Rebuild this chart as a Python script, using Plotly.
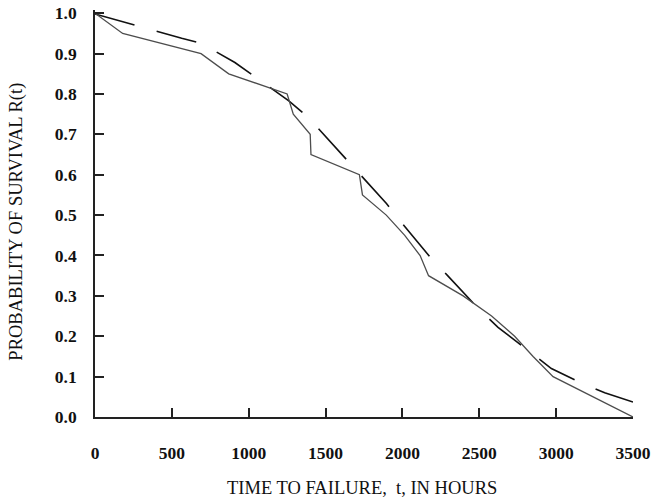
import plotly.graph_objects as go

# Empirical survival curve (solid)
emp_t = [0, 180, 690, 870, 1250, 1290, 1400, 1405, 1720, 1740, 1895, 2015,
         2115, 2170, 2395, 2580, 2730, 2850, 2980, 3240, 3500]
emp_r = [1.00, 0.95, 0.90, 0.85, 0.80, 0.75, 0.70, 0.65, 0.60, 0.55, 0.50, 0.45,
         0.40, 0.35, 0.30, 0.25, 0.20, 0.15, 0.10, 0.05, 0.00]

# Fitted survival curve (dashed)
fit_t = [0, 217, 340, 564, 689, 910, 1040, 1261, 1387, 1586, 1701, 1896,
         2000, 2178, 2297, 2503, 2622, 2855, 2969, 3193, 3316, 3500]
fit_r = [0.998, 0.975, 0.961, 0.938, 0.926, 0.878, 0.843, 0.783, 0.742, 0.659, 0.612, 0.529,
         0.479, 0.397, 0.349, 0.265, 0.222, 0.153, 0.120, 0.079, 0.060, 0.037]

x_ticks = [0, 500, 1000, 1500, 2000, 2500, 3000, 3500]
y_ticks = [0.0, 0.1, 0.2, 0.3, 0.4, 0.5, 0.6, 0.7, 0.8, 0.9, 1.0]
y_labels = [f"{v:.1f}" for v in y_ticks]

x_title = "TIME TO FAILURE,  t, IN HOURS"
y_title = "PROBABILITY OF SURVIVAL R(t)"

fig = go.Figure()
fig.add_trace(go.Scatter(x=fit_t, y=fit_r, mode="lines",
                         line=dict(color="#111111", width=1.6, dash="41px,23px"),
                         showlegend=False, hoverinfo="skip"))
fig.add_trace(go.Scatter(x=emp_t, y=emp_r, mode="lines",
                         line=dict(color="#4d4d4d", width=1.3),
                         showlegend=False, hoverinfo="skip"))

tick_font = dict(family="Liberation Serif", size=17.5, color="#111111", weight="bold")
title_font = dict(family="Liberation Serif", size=18.5, color="#111111")
fig.update_layout(
    width=652, height=498,
    margin=dict(l=95, r=19, t=10, b=81, pad=0),
    paper_bgcolor="white", plot_bgcolor="white",
    xaxis=dict(range=[0, 3500], tickvals=x_ticks, ticktext=[str(v) for v in x_ticks],
               ticks="inside", ticklen=9, tickwidth=1.5, tickcolor="#222222",
               showline=True, linecolor="#222222", linewidth=1.6,
               showgrid=False, zeroline=False, tickfont=tick_font,
               ticklabelstandoff=19, automargin=False, ticklabeloverflow="allow"),
    yaxis=dict(range=[0, 1.008], tickvals=y_ticks, ticktext=y_labels,
               ticks="inside", ticklen=9, tickwidth=1.5, tickcolor="#222222",
               showline=True, linecolor="#222222", linewidth=1.6,
               showgrid=False, zeroline=False, tickfont=tick_font,
               ticklabelstandoff=13, automargin=False, ticklabeloverflow="allow"),
    annotations=[
        dict(text=x_title, xref="paper", yref="paper", x=0.496, y=-0.175,
             xanchor="center", yanchor="middle", showarrow=False,
             font=title_font),
        dict(text=y_title, xref="paper", yref="paper", x=-0.145, y=0.48,
             xanchor="center", yanchor="middle", showarrow=False, textangle=-90,
             font=title_font),
    ],
)

fig.write_html("out.html",
               config={"displayModeBar": False},
               post_script="document.body.style.margin='0';document.body.style.overflow='hidden';")
